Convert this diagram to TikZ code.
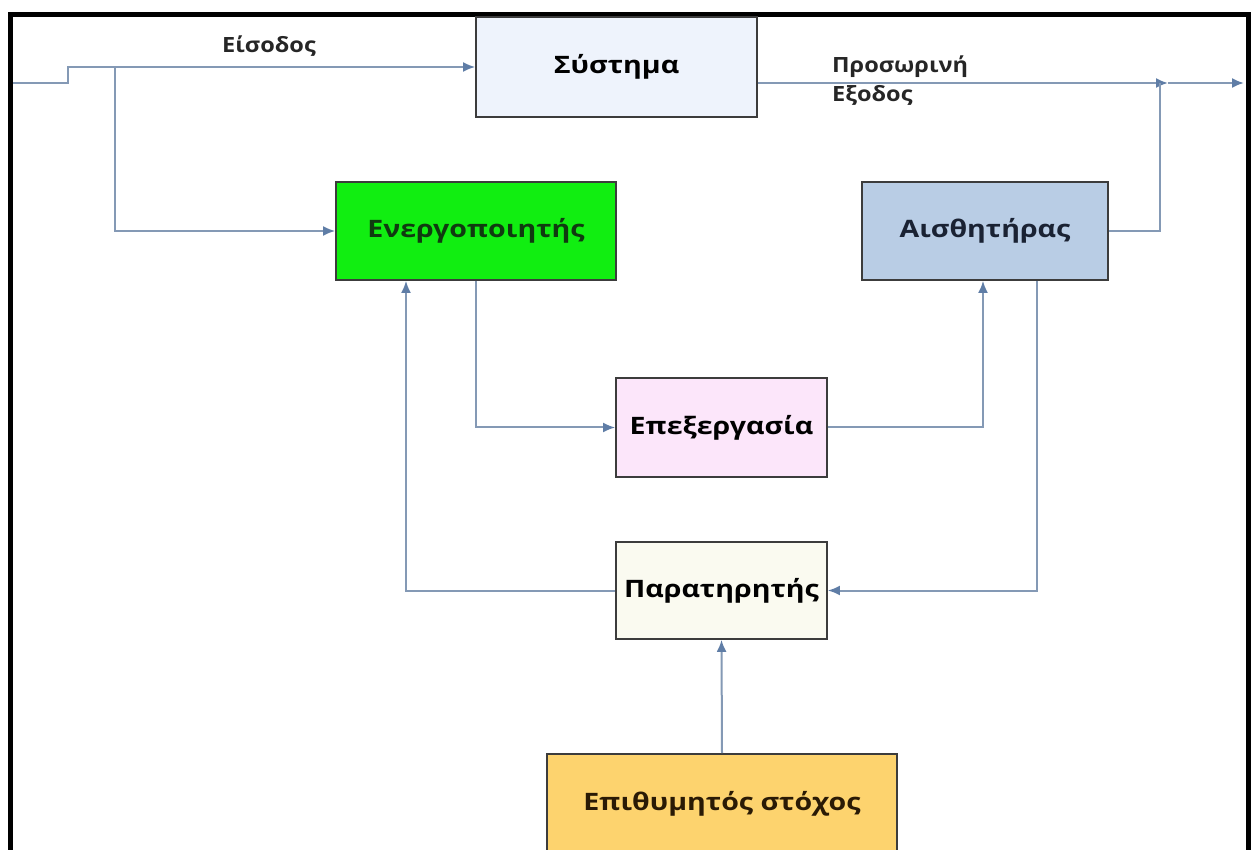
\documentclass[tikz,border=0pt]{standalone}
\usepackage{fontspec}
\setmainfont{Open Sans}
\newfontfamily\blkfont[FakeStretch=1.19]{Open Sans}
\newfontfamily\lblfont[FakeStretch=1.12]{Open Sans}
\usetikzlibrary{arrows.meta}
\definecolor{wire}{HTML}{8499B5}
\definecolor{tipc}{HTML}{5F7DA6}
\definecolor{edge}{HTML}{3C3C3C}
\definecolor{sysfill}{HTML}{EEF3FC}
\definecolor{actfill}{HTML}{11EE11}
\definecolor{acttext}{HTML}{103A10}
\definecolor{sensfill}{HTML}{B9CDE5}
\definecolor{senstext}{HTML}{1A2233}
\definecolor{procfill}{HTML}{FCE6FA}
\definecolor{obsfill}{HTML}{FAFAF0}
\definecolor{goalfill}{HTML}{FDD36E}
\definecolor{goaltext}{HTML}{2A1A05}
\tikzset{
  blk/.style={draw=edge, line width=1.8pt, inner sep=0pt, font=\blkfont\fontsize{24}{28}\selectfont\bfseries, text=black},
  conn/.style={draw=wire, line width=2pt},
  arr/.style={-{Latex[length=12pt,width=10pt,color=tipc]}},
  lbl/.style={font=\lblfont\fontsize{21}{29}\selectfont\bfseries, text={black!85}, inner sep=0pt}
}
\begin{document}
\begin{tikzpicture}[x=1pt,y=-1pt]
\clip (0,0) rectangle (1254,850);
\fill[white] (0,0) rectangle (1254,850);
% outer frame, open at the bottom
\draw[line width=5pt, line join=miter] (10,880) -- (10,14.5) -- (1248,14.5) -- (1248,880);

% blocks
\node[blk, fill=sysfill, minimum width=281pt, minimum height=100pt] (sys) at (616.5,67) {Σύστημα};
\node[blk, fill=actfill, minimum width=280pt, minimum height=98pt, text=acttext] (act) at (476,231) {Ενεργοποιητής};
\node[blk, fill=sensfill, minimum width=246pt, minimum height=98pt, text=senstext] (sens) at (985,231) {Αισθητήρας};
\node[blk, fill=procfill, minimum width=211pt, minimum height=99pt] (proc) at (721.5,427.5) {Επεξεργασία};
\node[blk, fill=obsfill, minimum width=211pt, minimum height=97pt] (obs) at (721.5,590.5) {Παρατηρητής};
\node[blk, fill=goalfill, minimum width=350pt, minimum height=100pt, text=goaltext] (goal) at (722,804) {Επιθυμητός στόχος};

% labels
\node[lbl] (lblin) at (269,46) {Είσοδος};
\node[lbl, anchor=west, align=left] (lblout) at (832,81) {Προσωρινή\\Εξοδος};

% connection points
\coordinate (inA) at (13,83);
\coordinate (inB) at (68,83);
\coordinate (inC) at (68,67);
\coordinate (br) at (115,67);
\coordinate (jn) at (1160,83);
\coordinate (jtip) at (1168,83);
\coordinate (outE) at (1244,83);

% input
\draw[conn, arr] (inA) -- (inB) -- (inC) -- (sys.west);
\draw[conn, arr] (br) |- (act.west);
% output
\draw[conn, arr] ([yshift=-16pt]sys.east) -- (jtip);
\draw[conn] (sens.east) -| (jn);
\draw[conn, arr] (jtip) -- (outE);
% inner loop
\draw[conn, arr] (act.south) |- (proc.west);
\draw[conn, arr] (proc.east) -| ([xshift=-2pt]sens.south);
\draw[conn, arr] ([xshift=52pt]sens.south) |- (obs.east);
\draw[conn, arr] (obs.west) -| ([xshift=-70pt]act.south);
\draw[conn, arr] (goal.north) -- (obs.south);
\end{tikzpicture}
\end{document}
